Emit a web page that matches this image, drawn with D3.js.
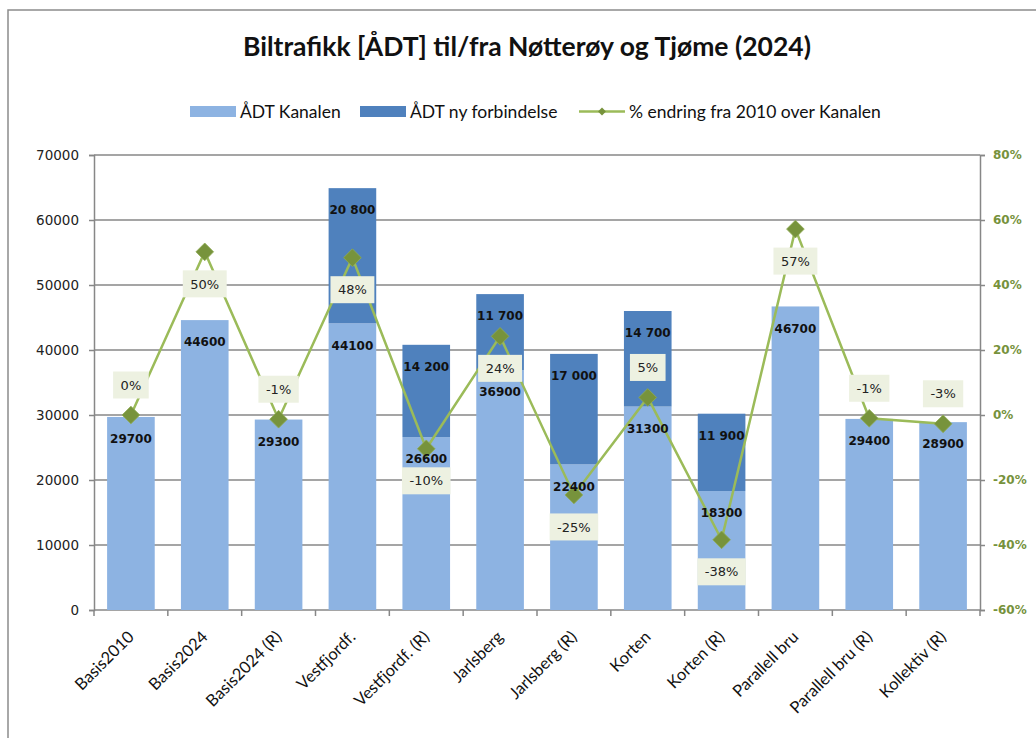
<!DOCTYPE html>
<html>
<head>
<meta charset="utf-8">
<script src="https://cdn.jsdelivr.net/npm/d3@7"></script>
<style>
  body { margin: 0; background: #fff; }
  svg { display: block; }
</style>
</head>
<body>
<svg id="chart"></svg>
<script>
// data
const title = "Biltrafikk [ÅDT] til/fra Nøtterøy og Tjøme (2024)";
const seriesNames = ["ÅDT Kanalen", "ÅDT ny forbindelse", "% endring fra 2010 over Kanalen"];
const categories = ["Basis2010", "Basis2024", "Basis2024 (R)", "Vestfjordf.", "Vestfjordf. (R)",
  "Jarlsberg", "Jarlsberg (R)", "Korten", "Korten (R)", "Parallell bru", "Parallell bru (R)", "Kollektiv (R)"];
const kanalen = [29700, 44600, 29300, 44100, 26600, 36900, 22400, 31300, 18300, 46700, 29400, 28900];
const nyForbindelse = [0, 0, 0, 20800, 14200, 11700, 17000, 14700, 11900, 0, 0, 0];
const endring = [0, 50.2, -1.3, 48.4, -10.4, 24.2, -24.6, 5.4, -38.4, 57.2, -1.0, -2.7];
const leftTicks = [0, 10000, 20000, 30000, 40000, 50000, 60000, 70000];
const rightTicks = [-60, -40, -20, 0, 20, 40, 60, 80];

// label placement of the % boxes (above / below the marker)
const pctLabelSide = ["above", "below", "above", "below", "below", "below",
  "below", "above", "below", "below", "above", "above"];

const width = 1036, height = 738;
const plot = { left: 94, right: 980, top: 155, bottom: 610 };

const lysBla = "#8db3e2", morkBla = "#4f81bd", gronn = "#9bbb59", markor = "#77933c";
const grid = "#878787", labelBg = "#edf1e1";

const svg = d3.select("#chart")
  .attr("width", width)
  .attr("height", height)
  .attr("viewBox", "0 0 " + width + " " + height);

// ramme rundt diagrammet
svg.append("rect")
  .attr("x", 8).attr("y", 10)
  .attr("width", width).attr("height", height)
  .attr("fill", "#fff")
  .attr("stroke", "#8c8c8c").attr("stroke-width", 1.5);

const x = d3.scaleBand()
  .domain(categories)
  .range([plot.left, plot.right])
  .paddingInner(0.355)
  .paddingOuter(0.1775);

const y = d3.scaleLinear().domain([0, 70000]).range([plot.bottom, plot.top]);
const y2 = d3.scaleLinear().domain([-60, 80]).range([plot.bottom, plot.top]);

const step = x.step();
const mid = d => x(d) + x.bandwidth() / 2;

// gridlines
svg.append("g")
  .selectAll("line")
  .data(leftTicks.filter(t => t > 0))
  .join("line")
  .attr("x1", plot.left).attr("x2", plot.right)
  .attr("y1", d => y(d)).attr("y2", d => y(d))
  .attr("stroke", grid).attr("stroke-width", 1.5);

// venstre akse
const yAxis = d3.axisLeft(y).tickValues(leftTicks).tickSize(5).tickPadding(10).tickFormat(d3.format("d"));
const gy = svg.append("g").attr("transform", "translate(" + plot.left + ",0)").call(yAxis);
gy.select(".domain").attr("stroke", grid).attr("stroke-width", 1.5);
gy.selectAll(".tick line").attr("stroke", grid).attr("stroke-width", 1.5);
gy.selectAll(".tick text")
  .attr("font-family", "'DejaVu Sans', Verdana, sans-serif")
  .attr("font-size", 13.5).attr("fill", "#222");

// høyre akse
const y2Axis = d3.axisRight(y2).tickValues(rightTicks).tickSize(5).tickPadding(8).tickFormat(d => d + "%");
const gy2 = svg.append("g").attr("transform", "translate(" + plot.right + ",0)").call(y2Axis);
gy2.select(".domain").attr("stroke", grid).attr("stroke-width", 1.5);
gy2.selectAll(".tick line").attr("stroke", grid).attr("stroke-width", 1.5);
gy2.selectAll(".tick text")
  .attr("font-family", "'DejaVu Sans', Verdana, sans-serif")
  .attr("font-weight", "bold")
  .attr("font-size", 12).attr("fill", "#76923c");

// x-akse med streker mellom kategoriene
svg.append("line")
  .attr("x1", plot.left).attr("x2", plot.right)
  .attr("y1", plot.bottom).attr("y2", plot.bottom)
  .attr("stroke", grid).attr("stroke-width", 1.5);
svg.append("g")
  .selectAll("line")
  .data(d3.range(categories.length + 1))
  .join("line")
  .attr("x1", i => plot.left + i * step).attr("x2", i => plot.left + i * step)
  .attr("y1", plot.bottom).attr("y2", plot.bottom + 6)
  .attr("stroke", grid).attr("stroke-width", 1.5);

svg.append("g")
  .selectAll("text")
  .data(categories)
  .join("text")
  .attr("transform", d => "translate(" + (mid(d) + 4) + "," + (plot.bottom + 28) + ") rotate(-45)")
  .attr("text-anchor", "end")
  .attr("font-family", "Lato, 'Open Sans', sans-serif")
  .attr("font-size", 16.5)
  .attr("fill", "#111")
  .text(d => d);

// stolper
const bars = svg.append("g");
bars.selectAll("rect.kanalen")
  .data(categories)
  .join("rect")
  .attr("class", "kanalen")
  .attr("x", d => x(d)).attr("width", x.bandwidth())
  .attr("y", (d, i) => y(kanalen[i]))
  .attr("height", (d, i) => y(0) - y(kanalen[i]))
  .attr("fill", lysBla);

bars.selectAll("rect.ny")
  .data(categories.filter((d, i) => nyForbindelse[i] > 0))
  .join("rect")
  .attr("class", "ny")
  .attr("x", d => x(d)).attr("width", x.bandwidth())
  .attr("y", d => { const i = categories.indexOf(d); return y(kanalen[i] + nyForbindelse[i]); })
  .attr("height", d => { const i = categories.indexOf(d); return y(kanalen[i]) - y(kanalen[i] + nyForbindelse[i]); })
  .attr("fill", morkBla);

// linje og markører
const punkter = categories.map((d, i) => [mid(d), y2(endring[i])]);
svg.append("path")
  .attr("d", d3.line()(punkter))
  .attr("fill", "none")
  .attr("stroke", gronn).attr("stroke-width", 2.5);

svg.append("g")
  .selectAll("path")
  .data(punkter)
  .join("path")
  .attr("transform", p => "translate(" + p[0] + "," + p[1] + ")")
  .attr("d", d3.symbol(d3.symbolDiamond2, 200)())
  .attr("fill", markor)
  .attr("stroke", "#8fac55").attr("stroke-width", 0.8);

// verdier på stolpene
const fmtSpace = d3.formatLocale({ decimal: ",", thousands: " ", grouping: [3], currency: ["", ""] }).format(",");
const barLabelFont = "'DejaVu Sans', Verdana, sans-serif";

svg.append("g")
  .selectAll("text")
  .data(categories)
  .join("text")
  .attr("x", d => mid(d))
  .attr("y", (d, i) => y(kanalen[i]) + 22)
  .attr("dy", "0.35em")
  .attr("text-anchor", "middle")
  .attr("font-family", barLabelFont).attr("font-weight", "bold")
  .attr("font-size", 12).attr("fill", "#111")
  .text((d, i) => kanalen[i]);

svg.append("g")
  .selectAll("text")
  .data(categories.filter((d, i) => nyForbindelse[i] > 0))
  .join("text")
  .attr("x", d => mid(d))
  .attr("y", d => { const i = categories.indexOf(d); return y(kanalen[i] + nyForbindelse[i]) + 22; })
  .attr("dy", "0.35em")
  .attr("text-anchor", "middle")
  .attr("font-family", barLabelFont).attr("font-weight", "bold")
  .attr("font-size", 12).attr("fill", "#111")
  .text(d => fmtSpace(nyForbindelse[categories.indexOf(d)]));

// prosent-etiketter med bakgrunn
const fmtPct = v => d3.format(".0%")(v / 100).replace("−", "-");
const pctG = svg.append("g").selectAll("g")
  .data(categories)
  .join("g")
  .attr("transform", (d, i) => {
    const cy = y2(endring[i]) + (pctLabelSide[i] === "above" ? -30 : 32);
    return "translate(" + mid(d) + "," + cy + ")";
  });

pctG.append("text")
  .attr("text-anchor", "middle")
  .attr("dy", "0.36em")
  .attr("font-family", barLabelFont)
  .attr("font-size", 13).attr("fill", "#222")
  .text((d, i) => fmtPct(endring[i]));

pctG.insert("rect", "text")
  .each(function () {
    const w = this.parentNode.querySelector("text").getComputedTextLength() + 15;
    d3.select(this).attr("x", -w / 2).attr("width", w);
  })
  .attr("y", -13.5).attr("height", 27)
  .attr("fill", labelBg);

// tittel
svg.append("text")
  .attr("x", 527).attr("y", 56)
  .attr("text-anchor", "middle")
  .attr("font-family", "Lato, 'Open Sans', sans-serif")
  .attr("font-weight", "bold")
  .attr("font-size", 26.5)
  .attr("fill", "#111")
  .text(title);

// forklaring
const legend = svg.append("g").attr("font-family", "Lato, 'Open Sans', sans-serif").attr("font-size", 17.5);
const legendX = [190, 360, 579];
legend.append("rect").attr("x", legendX[0]).attr("y", 106).attr("width", 46).attr("height", 11).attr("fill", lysBla);
legend.append("rect").attr("x", legendX[1]).attr("y", 106).attr("width", 46).attr("height", 11).attr("fill", morkBla);
legend.append("line").attr("x1", legendX[2]).attr("x2", legendX[2] + 46).attr("y1", 111.5).attr("y2", 111.5)
  .attr("stroke", gronn).attr("stroke-width", 2.5);
legend.append("path")
  .attr("transform", "translate(" + (legendX[2] + 23) + ",111.5)")
  .attr("d", d3.symbol(d3.symbolDiamond2, 40)())
  .attr("fill", markor);
legend.selectAll("text.lg")
  .data(seriesNames)
  .join("text")
  .attr("class", "lg")
  .attr("x", (d, i) => legendX[i] + 50)
  .attr("y", 112)
  .attr("dy", "0.35em")
  .attr("fill", "#111")
  .text(d => d);
</script>
</body>
</html>
